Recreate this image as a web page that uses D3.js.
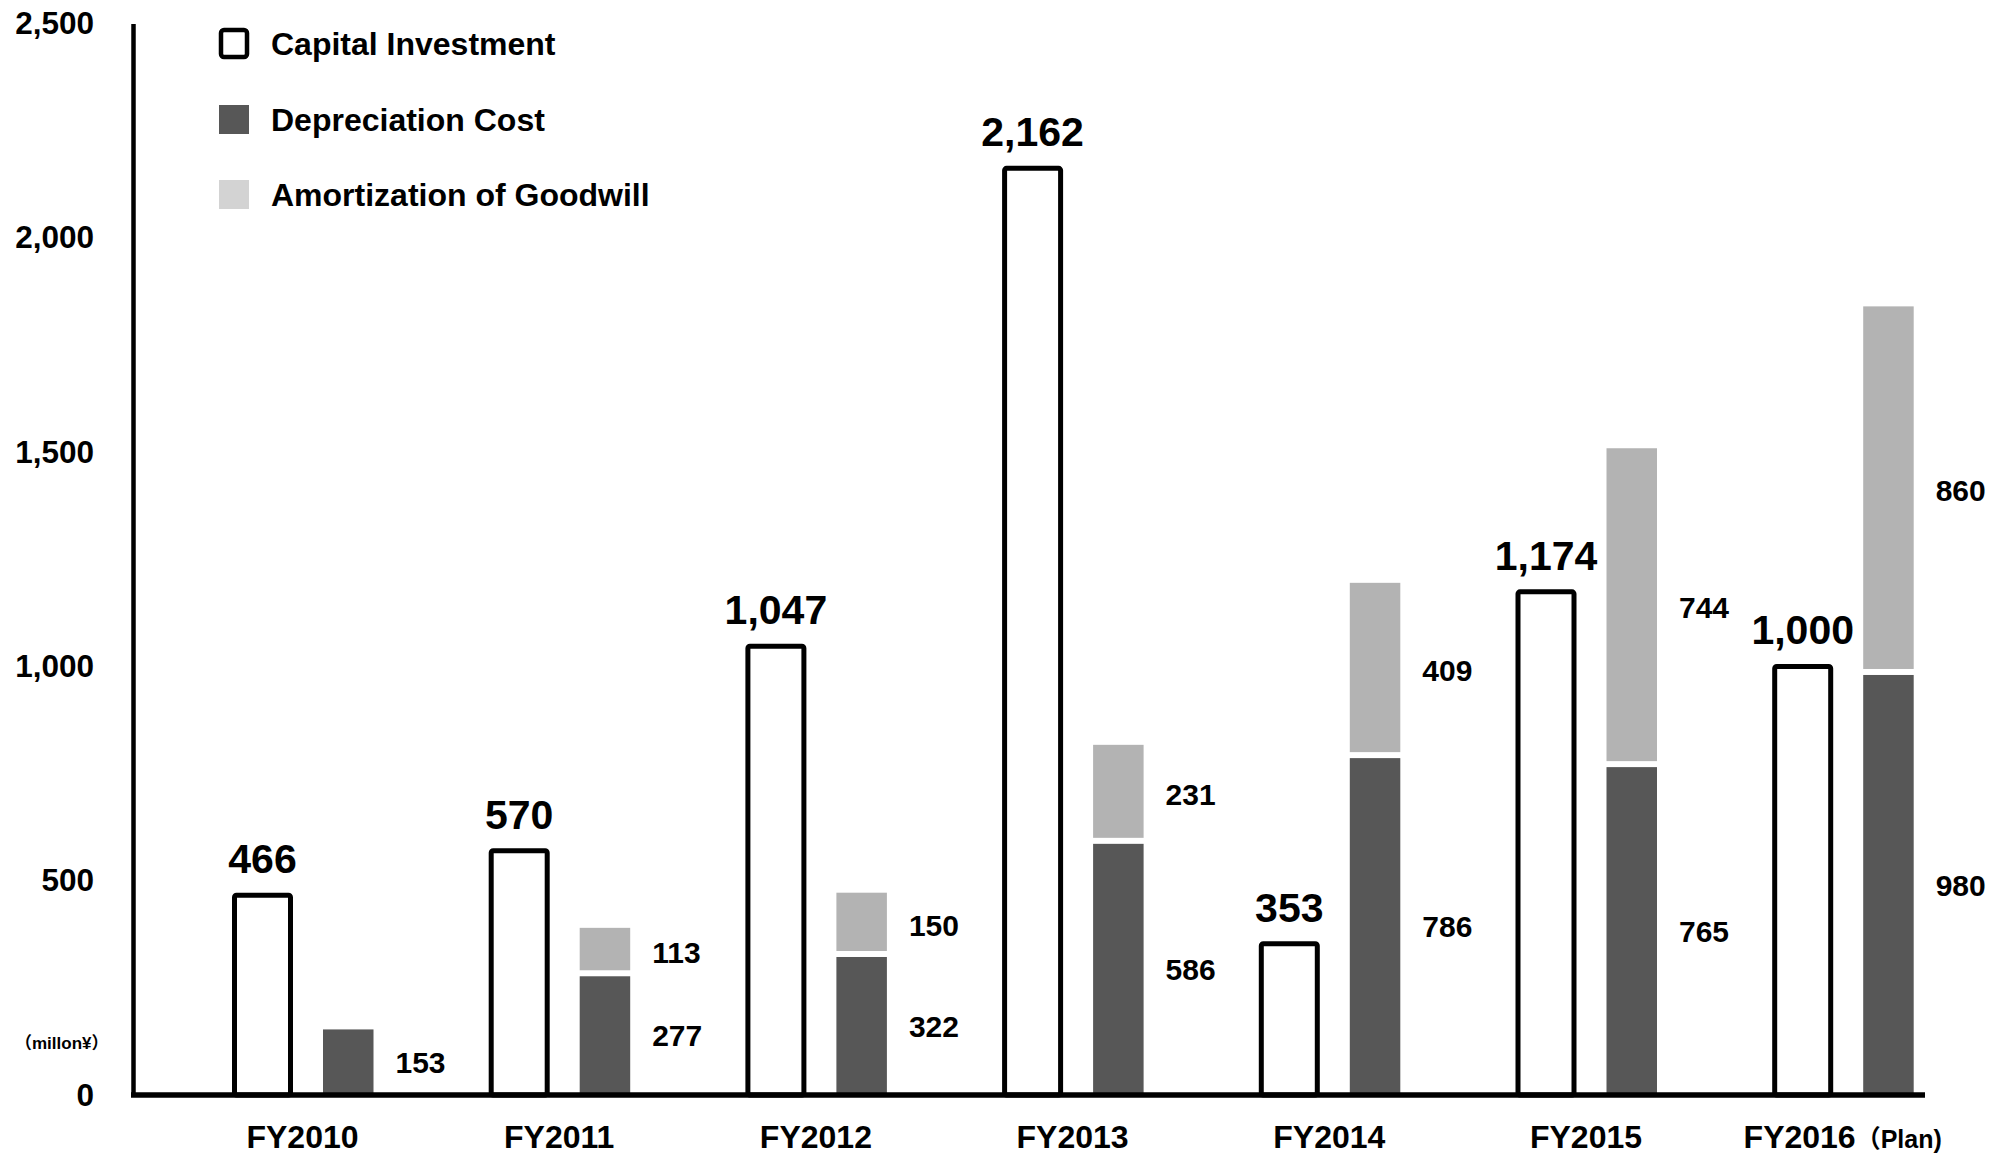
<!DOCTYPE html>
<html>
<head>
<meta charset="utf-8">
<script src="https://cdn.jsdelivr.net/npm/d3@7"></script>
<style>
  html, body { margin: 0; padding: 0; background: #fff; }
  svg { display: block; }
  text { font-family: "Liberation Sans", Arial, Helvetica, "Noto Sans CJK JP", sans-serif; font-weight: bold; fill: #000; }
  .cjk { font-family: "Noto Sans CJK JP", sans-serif; }
</style>
</head>
<body>
<svg id="chart" width="2012" height="1156"></svg>
<script>
// Fiscal years and their series (million yen)
const categories   = ["FY2010", "FY2011", "FY2012", "FY2013", "FY2014", "FY2015", "FY2016"];
const categoryNote = ["", "", "", "", "", "", "Plan)"];
const capital      = [466, 570, 1047, 2162, 353, 1174, 1000];
const depreciation = [153, 277, 322, 586, 786, 765, 980];
const goodwill     = [0, 113, 150, 231, 409, 744, 860];
const yTicks       = [0, 500, 1000, 1500, 2000, 2500];
const legendItems  = ["Capital Investment", "Depreciation Cost", "Amortization of Goodwill"];
const unitLabel    = "millon¥";

const COLORS = { dep: "#575757", amort: "#b3b3b3", amortKey: "#d3d3d3" };

const svg = d3.select("#chart");
const axisX = 133, baseY = 1095, topY = 23.5, axisEnd = 1925;

const y = d3.scaleLinear().domain([0, 2500]).range([baseY, topY]);
const step = 256.7;
const x = d3.scaleBand()
  .domain(categories)
  .range([302.5 - step / 2, 302.5 - step / 2 + step * categories.length])
  .paddingInner(0).paddingOuter(0);
const center = c => x(c) + x.bandwidth() / 2;

const rows = categories.map((c, i) => ({
  cat: c, cap: capital[i], dep: depreciation[i], gw: goodwill[i]
}));

// Capital investment: outlined bars
const g = svg.append("g");
g.selectAll("rect.cap").data(rows).enter().append("rect")
  .attr("class", "cap")
  .attr("x", d => center(d.cat) - 68)
  .attr("width", 56)
  .attr("y", d => y(d.cap))
  .attr("height", d => y(0) - y(d.cap))
  .attr("rx", 2)
  .attr("fill", "#fff").attr("stroke", "#000").attr("stroke-width", 5);

g.selectAll("text.capLabel").data(rows).enter().append("text")
  .attr("class", "capLabel")
  .attr("x", d => center(d.cat) - 40)
  .attr("y", d => y(d.cap) - 22)
  .attr("text-anchor", "middle")
  .style("font-size", "41px")
  .text(d => d3.format(",")(d.cap));

// Depreciation (bottom) and goodwill amortization (top) stacks
const depX = d => center(d.cat) + 20.5;
const depW = 50.5;
g.selectAll("rect.dep").data(rows).enter().append("rect")
  .attr("class", "dep")
  .attr("x", depX).attr("width", depW)
  .attr("y", d => y(d.dep))
  .attr("height", d => y(0) - y(d.dep))
  .attr("fill", COLORS.dep);

const gwRows = rows.filter(d => d.gw > 0);
g.selectAll("rect.gw").data(gwRows).enter().append("rect")
  .attr("class", "gw")
  .attr("x", depX).attr("width", depW)
  .attr("y", d => y(d.dep + d.gw))
  .attr("height", d => y(d.dep) - y(d.dep + d.gw) - 6)
  .attr("fill", COLORS.amort);

g.selectAll("text.depLabel").data(rows).enter().append("text")
  .attr("class", "depLabel")
  .attr("x", d => depX(d) + depW + 22)
  .attr("y", d => (y(0) + y(d.dep)) / 2)
  .attr("dy", "0.36em")
  .style("font-size", "30px")
  .text(d => d3.format(",")(d.dep));

g.selectAll("text.gwLabel").data(gwRows).enter().append("text")
  .attr("class", "gwLabel")
  .attr("x", d => depX(d) + depW + 22)
  .attr("y", d => (y(d.dep) + y(d.dep + d.gw)) / 2)
  .attr("dy", "0.36em")
  .style("font-size", "30px")
  .text(d => d3.format(",")(d.gw));

// Y axis
const yAxis = svg.append("g")
  .attr("transform", `translate(${axisX},0)`)
  .call(d3.axisLeft(y).tickValues(yTicks).tickFormat(d3.format(","))
    .tickSizeInner(0).tickSizeOuter(0).tickPadding(39));
yAxis.attr("font-family", null).attr("font-size", null);
yAxis.select(".domain").attr("stroke", "#000").attr("stroke-width", 4.5);
yAxis.selectAll("text").style("font-size", "31.5px").attr("fill", "#000");

// X axis
const xAxis = svg.append("g")
  .attr("transform", `translate(0,${baseY})`)
  .call(d3.axisBottom(x).tickSize(0));
xAxis.attr("font-family", null).attr("font-size", null);
xAxis.select(".domain").remove();
xAxis.append("line")
  .attr("x1", axisX - 2).attr("x2", axisEnd)
  .attr("y1", 0).attr("y2", 0)
  .attr("stroke", "#000").attr("stroke-width", 5.5);
xAxis.selectAll(".tick text")
  .attr("y", 53).attr("dy", 0)
  .attr("fill", "#000")
  .style("font-size", "32px")
  .each(function(d) {
    const note = categoryNote[categories.indexOf(d)];
    if (note) {
      const t = d3.select(this);
      t.append("tspan").attr("class", "cjk").style("font-size", "25px").text("（");
      t.append("tspan").style("font-size", "25px").text(note);
    }
  });

// Unit label
const unit = svg.append("text")
  .attr("x", 15).attr("y", 1043)
  .attr("dy", "0.35em")
  .style("font-size", "17px");
unit.append("tspan").attr("class", "cjk").text("（");
unit.append("tspan").text(unitLabel);
unit.append("tspan").attr("class", "cjk").text("）");

// Legend
const legend = svg.append("g");
const legendY = [43, 119, 194];
legendItems.forEach((name, i) => {
  const cy = legendY[i];
  if (i === 0) {
    legend.append("rect")
      .attr("x", 221).attr("y", cy - 13).attr("width", 26).attr("height", 27)
      .attr("rx", 3)
      .attr("fill", "#fff").attr("stroke", "#000").attr("stroke-width", 4.5);
  } else {
    legend.append("rect")
      .attr("x", 219).attr("y", cy - 14).attr("width", 30).attr("height", 29)
      .attr("fill", i === 1 ? COLORS.dep : COLORS.amortKey);
  }
  legend.append("text")
    .attr("x", 271).attr("y", cy)
    .attr("dy", "0.36em")
    .style("font-size", "32px")
    .text(name);
});
</script>
</body>
</html>
